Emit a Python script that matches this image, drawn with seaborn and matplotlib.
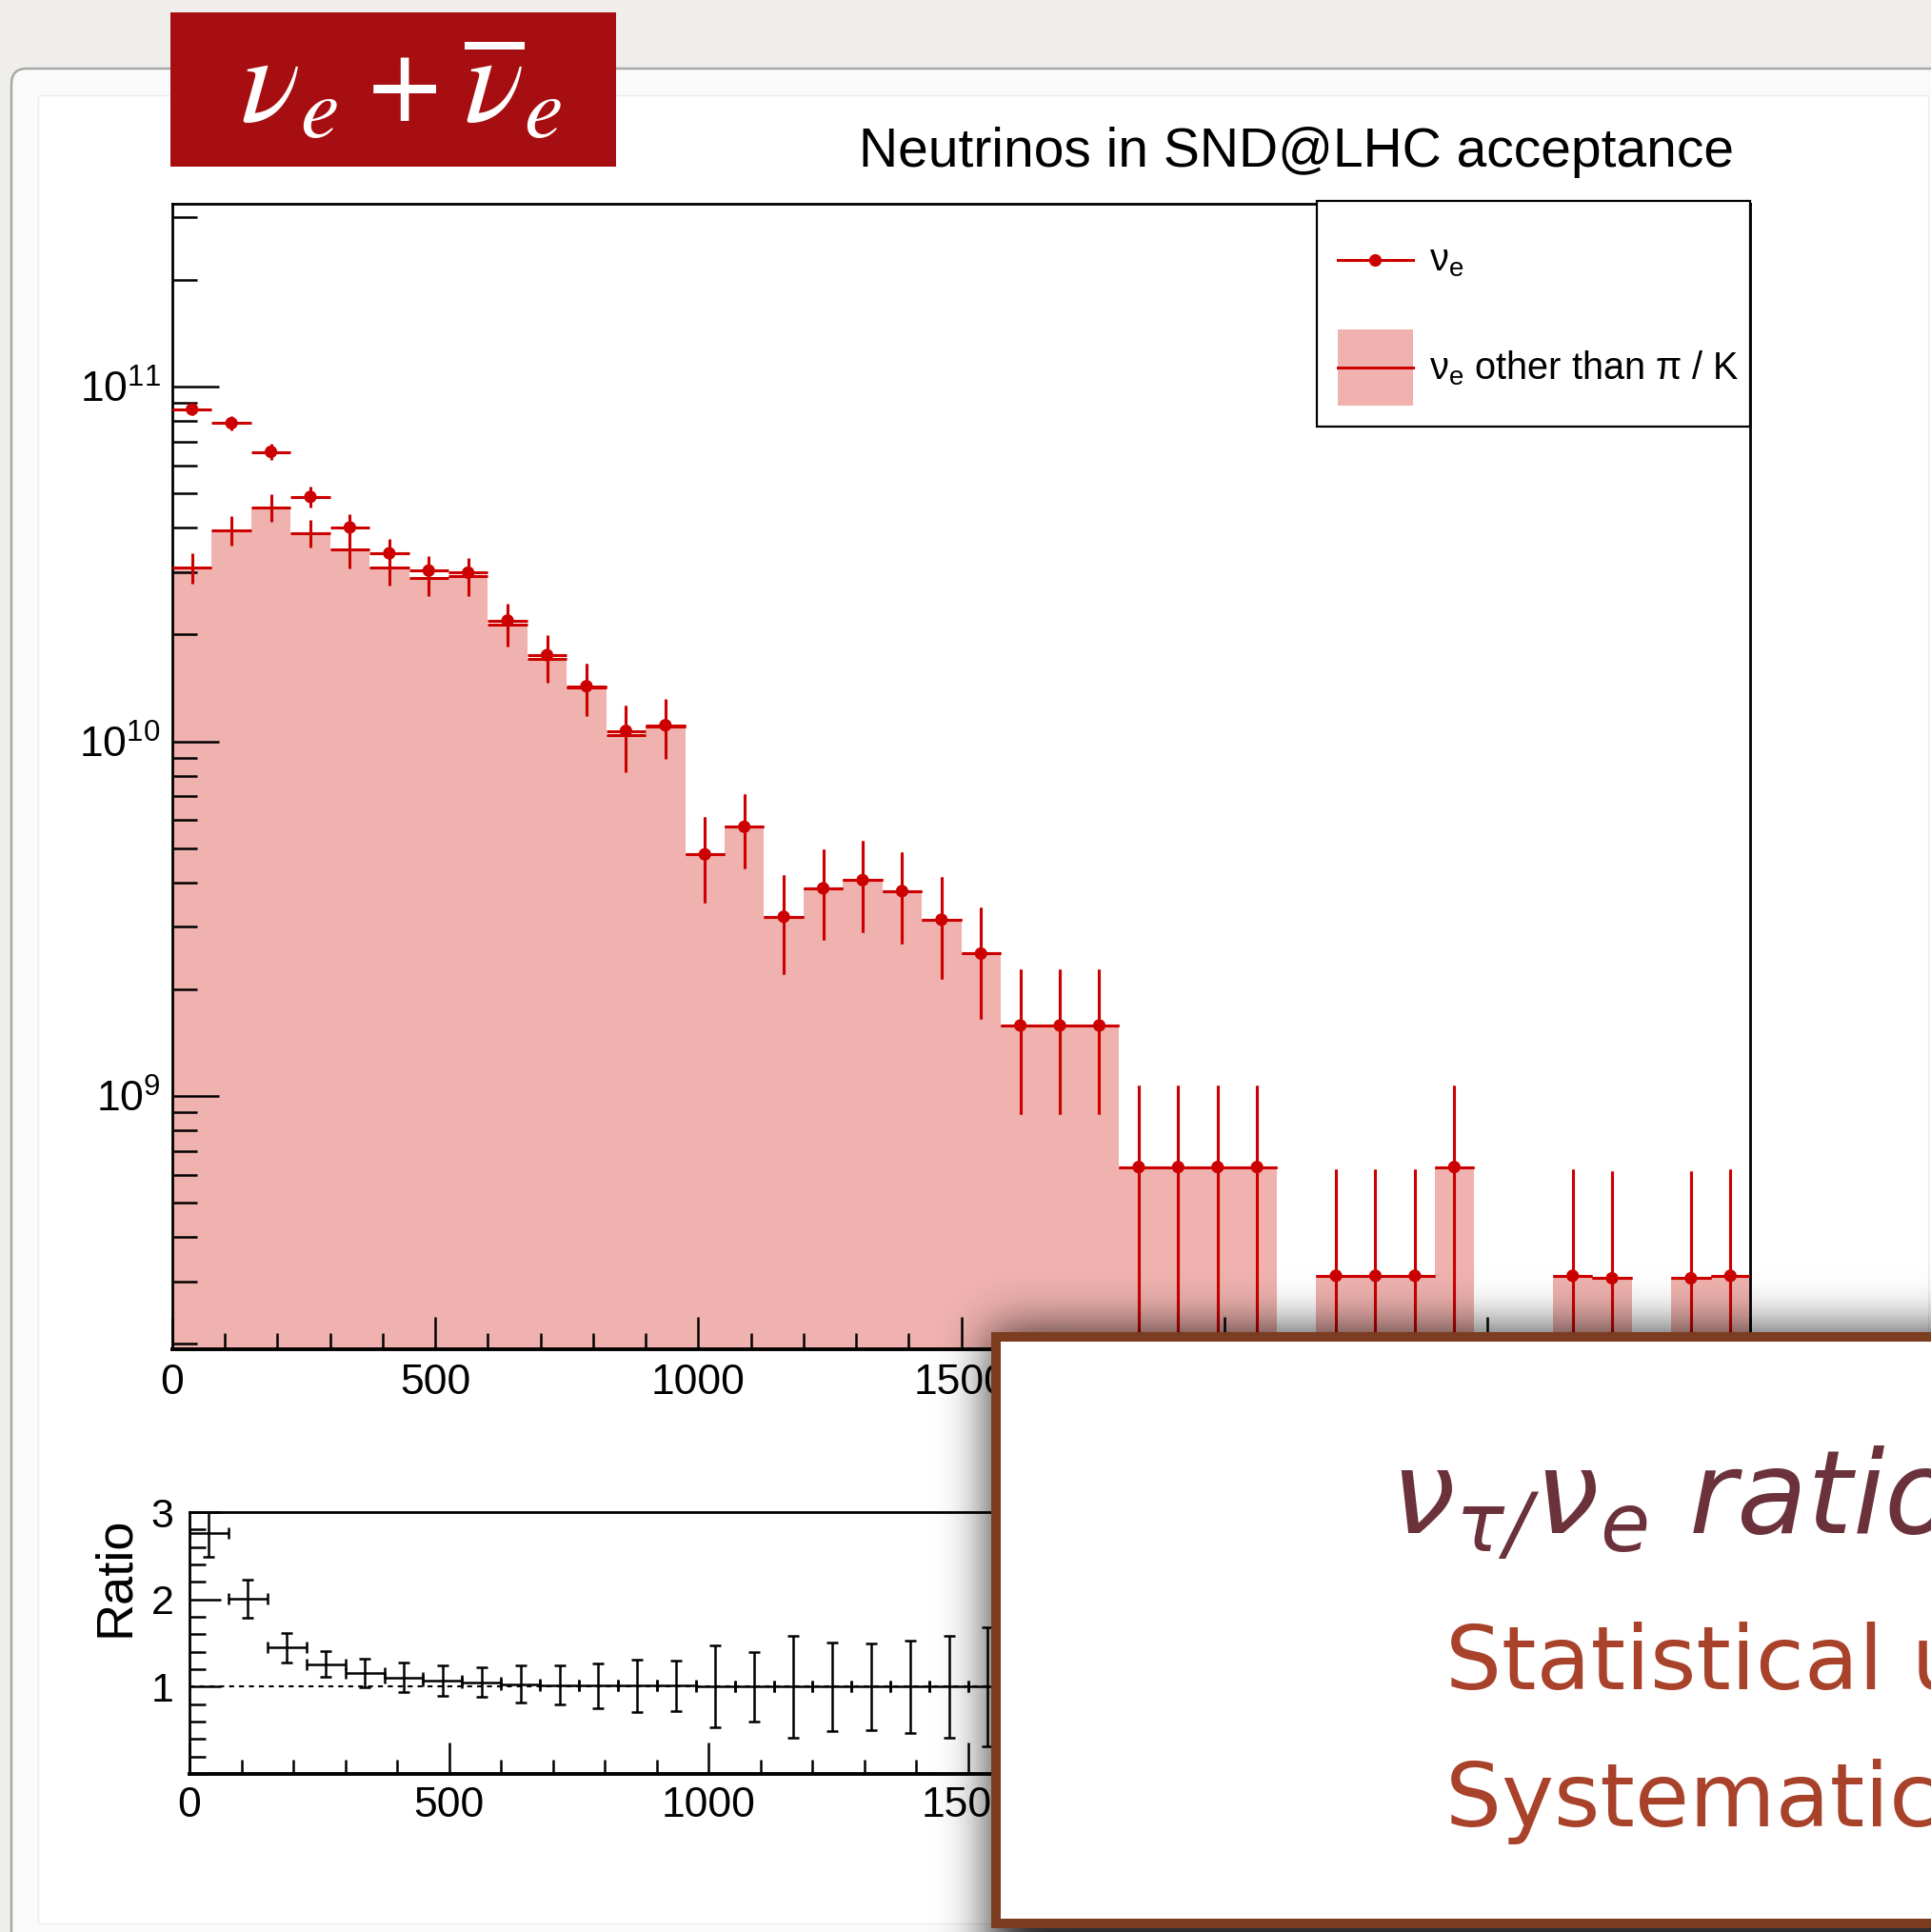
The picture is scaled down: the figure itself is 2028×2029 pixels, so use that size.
import math
import numpy as np
import pandas as pd
import matplotlib
matplotlib.use("Agg")
import matplotlib.pyplot as plt
import seaborn as sns
from matplotlib.patches import Rectangle, FancyBboxPatch, Patch
from matplotlib.lines import Line2D
from matplotlib.legend_handler import HandlerLine2D
from matplotlib.ticker import FixedLocator, MultipleLocator, LogLocator, NullFormatter

W, H, DPI = 2028, 2029, 100

# ---------------------------------------------------------------- data
# neutrino energy binning [GeV]: 40 bins of 75 GeV
bin_edges = np.arange(0, 3001, 75)
bin_centers = 0.5 * (bin_edges[:-1] + bin_edges[1:])
half_width = 37.5

# all nu_e in acceptance
nue_counts = [8.63e10, 7.89e10, 6.55e10, 4.89e10, 4.01e10, 3.39e10, 3.03e10, 2.99e10,
              2.19e10, 1.75e10, 1.43e10, 1.07e10, 1.11e10, 4.80e9, 5.74e9, 3.20e9,
              3.85e9, 4.06e9, 3.78e9, 3.14e9, 2.52e9, 1.58e9, 1.58e9, 1.58e9,
              6.3e8, 6.3e8, 6.3e8, 6.3e8, 0.0, 3.11e8, 3.11e8, 3.11e8,
              6.3e8, 0.0, 0.0, 3.11e8, 3.06e8, 0.0, 3.06e8, 3.11e8]
nue_errors = [3.0e9, 3.5e9, 3.4e9, 3.4e9, 3.6e9, 3.3e9, 2.9e9, 2.8e9,
              2.5e9, 2.4e9, 2.3e9, 1.95e9, 2.05e9, 1.3e9, 1.35e9, 1.0e9,
              1.1e9, 1.17e9, 1.1e9, 1.0e9, 8.7e8, 6.9e8, 6.9e8, 6.9e8,
              4.4e8, 4.4e8, 4.4e8, 4.4e8, 0.0, 3.11e8, 3.11e8, 3.11e8,
              4.4e8, 0.0, 0.0, 3.11e8, 3.06e8, 0.0, 3.06e8, 3.11e8]

# nu_e not coming from pion / kaon decays
other_counts = [3.09e10, 3.94e10, 4.57e10, 3.87e10, 3.47e10, 3.10e10, 2.89e10, 2.92e10,
                2.13e10, 1.71e10, 1.42e10, 1.04e10, 1.10e10, 4.80e9, 5.74e9, 3.20e9,
                3.85e9, 4.06e9, 3.78e9, 3.14e9, 2.52e9, 1.58e9, 1.58e9, 1.58e9,
                6.3e8, 6.3e8, 6.3e8, 6.3e8, 0.0, 3.11e8, 3.11e8, 3.11e8,
                6.3e8, 0.0, 0.0, 3.11e8, 3.06e8, 0.0, 3.06e8, 3.11e8]
other_errors = [3.05e9, 3.7e9, 4.1e9, 3.5e9, 3.9e9, 3.5e9, 3.3e9, 3.6e9,
                2.8e9, 2.5e9, 2.4e9, 2.2e9, 2.1e9, 1.3e9, 1.35e9, 1.0e9,
                1.1e9, 1.17e9, 1.1e9, 1.0e9, 8.7e8, 6.9e8, 6.9e8, 6.9e8,
                4.4e8, 4.4e8, 4.4e8, 4.4e8, 0.0, 3.11e8, 3.11e8, 3.11e8,
                4.4e8, 0.0, 0.0, 3.11e8, 3.06e8, 0.0, 3.06e8, 3.11e8]

# ratio panel, first 21 bins
ratio_values = [2.76, 2.01, 1.45, 1.26, 1.16, 1.105, 1.07, 1.05, 1.03, 1.02, 1.01,
                1.01, 1.01, 1.0, 1.0, 1.0, 1.0, 1.0, 1.0, 1.0, 1.0]
ratio_errors = [0.27, 0.22, 0.17, 0.15, 0.165, 0.17, 0.17, 0.17, 0.21, 0.22, 0.26,
                0.30, 0.29, 0.47, 0.40, 0.58, 0.51, 0.50, 0.53, 0.58, 0.68]

x_major = [0, 500, 1000, 1500, 2000, 2500, 3000]
x_major_labels = ["0", "500", "1000", "1500", "", "", ""]   # the rest sit under the callout
y_major = [1e9, 1e10, 1e11]
y_major_labels = [r"$10^{9}$", r"$10^{10}$", r"$10^{11}$"]
ratio_major = [1, 2, 3]

RED = "#cc0000"
FILL = "#efb2ae"

# ---------------------------------------------------------------- style
plt.rcParams.update({
    "font.family": ["Liberation Sans", "DejaVu Sans"],
    "mathtext.fontset": "custom",
    "mathtext.rm": "Liberation Sans",
    "mathtext.it": "Liberation Sans:italic",
    "mathtext.bf": "Liberation Sans:bold",
    "mathtext.sf": "Liberation Sans",
    "mathtext.default": "regular",
})

fig = plt.figure(figsize=(W / DPI, H / DPI), dpi=DPI, facecolor="#efeeea")


def fx(px):
    return px / W


def fy(py):
    return 1 - py / H


def frect(x0, y0, x1, y1):
    return [fx(x0), fy(y1), (x1 - x0) / W, (y1 - y0) / H]


class CenteredLineHandler(HandlerLine2D):
    """Legend line drawn through the middle of the handle box."""

    def create_artists(self, legend, orig_handle, xdescent, ydescent, width,
                       height, fontsize, trans):
        return super().create_artists(legend, orig_handle, xdescent, ydescent,
                                      width, height - ydescent, fontsize, trans)


# slide panel and white canvas behind the plots
fig.add_artist(FancyBboxPatch((fx(12), fy(2080)), (2120 - 12) / W, (2080 - 72) / H,
                              boxstyle="round,pad=0,rounding_size=0.008",
                              transform=fig.transFigure, facecolor="#fafafa",
                              edgecolor="#a8a8a8", linewidth=1.8, zorder=-10))
fig.add_artist(Rectangle((fx(40), fy(2020)), (2025 - 40) / W, (2020 - 100) / H,
                         transform=fig.transFigure, facecolor="white",
                         edgecolor="#ededed", linewidth=1.0, zorder=-9))

# ---------------------------------------------------------------- main pad
ax = fig.add_axes(frect(181, 214, 1838, 1417))
ax.set_yscale("log")

other_df = pd.DataFrame({"energy": bin_centers, "weight": other_counts})
sns.histplot(data=other_df, x="energy", weights="weight", bins=bin_edges.tolist(),
             element="step", fill=True, color=FILL, alpha=1.0, linewidth=0, ax=ax)

oth = np.asarray(other_counts)
oth_e = np.asarray(other_errors)
mo = oth > 0
ax.errorbar(bin_centers[mo], oth[mo], xerr=half_width,
            yerr=[np.minimum(oth_e[mo], oth[mo]), oth_e[mo]],
            fmt="none", ecolor=RED, elinewidth=2.2, capsize=0, zorder=3)

nue = np.asarray(nue_counts)
nue_e = np.asarray(nue_errors)
mn = nue > 0
ax.errorbar(bin_centers[mn], nue[mn], xerr=half_width,
            yerr=[np.minimum(nue_e[mn], nue[mn]), nue_e[mn]],
            fmt="none", ecolor=RED, elinewidth=2.2, capsize=0, zorder=3)
sns.scatterplot(x=bin_centers[mn], y=nue[mn], color=RED, s=90, edgecolor="none",
                legend=False, ax=ax, zorder=4)

ax.set_xlim(0, 3000)
ax.set_ylim(1.93e8, 3.28e11)
ax.set_xlabel("")
ax.set_ylabel("")

ax.xaxis.set_major_locator(FixedLocator(x_major))
ax.xaxis.set_minor_locator(MultipleLocator(100))
ax.set_xticklabels(x_major_labels)
ax.yaxis.set_major_locator(FixedLocator(y_major))
ax.set_yticklabels(y_major_labels)
ax.yaxis.set_minor_locator(LogLocator(base=10, subs=np.arange(2, 10), numticks=30))
ax.yaxis.set_minor_formatter(NullFormatter())

ax.tick_params(axis="both", which="both", direction="in", top=False, right=False,
               width=1.8, color="black")
ax.tick_params(axis="y", which="major", length=35, labelsize=32, pad=9)
ax.tick_params(axis="y", which="minor", length=19)
ax.tick_params(axis="x", which="major", length=24.5, labelsize=32, pad=11)
ax.tick_params(axis="x", which="minor", length=12)
for side in ["left", "right", "top"]:
    ax.spines[side].set_linewidth(2.0)
ax.spines["bottom"].set_linewidth(2.8)

# ---------------------------------------------------------------- ratio pad
rax = fig.add_axes(frect(199, 1588, 1835, 1863))
n_ratio = len(ratio_values)
rax.axhline(1.0, color="black", lw=1.5, ls=(0, (2.5, 2.5)), zorder=1)
rax.errorbar(bin_centers[:n_ratio], ratio_values, xerr=half_width, yerr=ratio_errors,
             fmt="none", ecolor="black", elinewidth=1.8, capsize=4, capthick=1.8,
             zorder=3)
rax.set_xlim(0, 3000)
rax.set_ylim(0, 3)
rax.xaxis.set_major_locator(FixedLocator(x_major))
rax.xaxis.set_minor_locator(MultipleLocator(100))
rax.set_xticklabels(x_major_labels)
rax.yaxis.set_major_locator(FixedLocator(ratio_major))
rax.set_yticklabels([str(v) for v in ratio_major])
rax.yaxis.set_minor_locator(MultipleLocator(0.2))
rax.tick_params(axis="both", which="both", direction="in", top=False, right=False,
                width=1.8, color="black")
rax.tick_params(axis="y", which="major", length=24, labelsize=31, pad=12)
rax.tick_params(axis="y", which="minor", length=12)
rax.tick_params(axis="x", which="major", length=24, labelsize=32, pad=9)
rax.tick_params(axis="x", which="minor", length=11)
for side in ["left", "right", "top"]:
    rax.spines[side].set_linewidth(2.0)
rax.spines["bottom"].set_linewidth(2.8)
fig.text(fx(121), fy(1656), "Ratio", rotation=90, ha="center", va="center", fontsize=39)

# ---------------------------------------------------------------- legend and title
h_nue = Line2D([], [], color=RED, lw=2.2, marker="o", ms=9.5, mew=0)
h_oth = (Patch(facecolor=FILL, edgecolor="none"), Line2D([], [], color=RED, lw=2.2))
leg = fig.legend(handles=[h_nue, h_oth],
                 labels=[r"$\nu_{e}$", r"$\nu_{e}$ other than $\pi$ / K"],
                 handler_map={Line2D: CenteredLineHandler()},
                 loc="upper left",
                 bbox_to_anchor=(fx(1383), fy(211), (1838 - 1383) / W, 0.0),
                 mode="expand", fontsize=28.5, handlelength=2.0, handleheight=2.73,
                 labelspacing=0.85, borderpad=0.55, handletextpad=0.43,
                 borderaxespad=0.0, fancybox=False, framealpha=1.0)
leg.get_frame().set_edgecolor("black")
leg.get_frame().set_linewidth(1.6)

fig.text(fx(902), fy(175), "Neutrinos in SND@LHC acceptance", fontsize=41,
         ha="left", va="baseline")

# flavour badge
fig.add_artist(Rectangle((fx(179), fy(175)), (647 - 179) / W, (175 - 13) / H,
                         transform=fig.transFigure, facecolor="#a70e12",
                         edgecolor="none", zorder=2))
fig.text(fx(252), fy(129), r"$\nu_e + \overline{\nu}_e$", fontsize=94, color="white",
         family="STIXGeneral", style="italic", math_fontfamily="stix",
         ha="left", va="baseline", zorder=3)

# ---------------------------------------------------------------- callout box
box_x0, box_y0 = 1041, 1399
sigma, amax = 26.0, 0.82
xs = np.arange(900, W) + 0.5
ys = np.arange(1250, H) + 0.5
erf = np.vectorize(math.erf)
sx = 0.5 * (1 + erf((xs - box_x0) / (sigma * math.sqrt(2))))
sy = 0.5 * (1 + erf((ys - box_y0) / (sigma * math.sqrt(2))))
shadow = np.zeros((len(ys), len(xs), 4), dtype=np.float32)
shadow[..., 3] = amax * np.outer(sy, sx)
fig.figimage(shadow, xo=900, yo=0, origin="upper", zorder=3)

bw = 10
fig.add_artist(Rectangle((fx(box_x0 + bw / 2), fy(2020)),
                         (2200 - box_x0) / W, (2020 - box_y0 - bw / 2) / H,
                         transform=fig.transFigure, facecolor="white",
                         edgecolor="#7b3c20", linewidth=bw * 0.72, zorder=4))

fig.text(fx(1460), fy(1611), r"$\nu_{\tau/}\nu_{e}$ ratio", fontsize=87,
         family="DejaVu Sans", style="italic", math_fontfamily="dejavusans",
         color="#6b323b", ha="left", va="baseline", zorder=5)
fig.text(fx(1518), fy(1774), "Statistical uncertainty", fontsize=67,
         family="DejaVu Sans", color="#a8422a", ha="left", va="baseline", zorder=5)
fig.text(fx(1518), fy(1918), "Systematic uncertainty", fontsize=67,
         family="DejaVu Sans", color="#a8422a", ha="left", va="baseline", zorder=5)

fig.savefig("out.png", dpi=DPI, facecolor=fig.get_facecolor())
